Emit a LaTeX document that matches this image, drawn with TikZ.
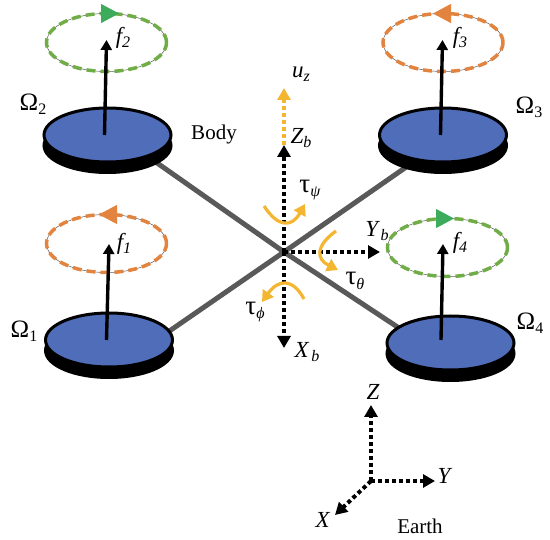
\documentclass[tikz,border=0pt]{standalone}
\usepackage{fontspec}
\setmainfont{Liberation Serif}
\usetikzlibrary{arrows.meta,shapes.geometric}
\definecolor{diskblue}{HTML}{4F6DB8}
\definecolor{armgray}{HTML}{595959}
\definecolor{spingreen}{HTML}{70AD47}
\definecolor{tipgreen}{HTML}{3CAB5B}
\definecolor{spinorange}{HTML}{E2843F}
\definecolor{torqueyellow}{HTML}{F4B631}
\tikzset{
  lbl/.style={font=\fontsize{21}{23}\selectfont,inner sep=0pt},
  axlbl/.style={font=\fontsize{23}{25}\selectfont,inner sep=0pt},
  taulbl/.style={font=\fontsize{27}{29}\selectfont,inner sep=0pt},
  omega/.style={font=\fontsize{25}{27}\selectfont,inner sep=0pt},
  arm/.style={armgray,line width=5pt},
  diskbase/.style={ellipse,fill=black,draw=black,line width=3pt,minimum width=127pt,minimum height=54pt,inner sep=0pt},
  disktop/.style={ellipse,fill=diskblue,draw=black,line width=3pt,minimum width=127pt,minimum height=54pt,inner sep=0pt},
  thrust/.style={line width=3.4pt,-{Triangle[length=10pt,width=11pt]}},
  axisline/.style={line width=4pt,dash pattern=on 4pt off 3pt,-{Triangle[length=12pt,width=13pt]}},
  torque/.style={torqueyellow,line width=3.2pt,-{Triangle[length=11pt,width=13pt]}},
  spinguide/.style={ellipse,draw=armgray,line width=.5pt,minimum width=120pt,minimum height=58pt,inner sep=0pt},
  spindash/.style={ellipse,line width=3.5pt,dash pattern=on 9pt off 5pt,minimum width=120pt,minimum height=58pt,inner sep=0pt},
  spintip/.style={-{Triangle[length=18pt,width=19pt]},line width=1pt}
}
\newcommand{\subbig}[1]{\raisebox{-.35ex}{\fontsize{16}{16}\selectfont #1}}
\begin{document}
\begin{tikzpicture}[x=1pt,y=-1pt]
\useasboundingbox (0,0) rectangle (550,540);

\coordinate (cen) at (284,252);

% arms
\draw[arm] (cen) -- (150,158);
\draw[arm] (cen) -- (168,332);
\draw[arm] (cen) -- (412,163);
\draw[arm] (cen) -- (405,332);

% rotor discs
\node[diskbase] at (107.5,145.5) {};
\fill[black] (44,135) rectangle (171,145.5);
\node[disktop] (disk2) at (107.5,135) {};

\node[diskbase] at (443,145.5) {};
\fill[black] (379.5,135) rectangle (506.5,145.5);
\node[disktop] (disk3) at (443,135) {};

\node[diskbase] at (109,350.5) {};
\fill[black] (45.5,340) rectangle (172.5,350.5);
\node[disktop] (disk1) at (109,340) {};

\node[diskbase] at (450.5,353.5) {};
\fill[black] (387,343) rectangle (514,353.5);
\node[disktop] (disk4) at (450.5,343) {};

% rotation rings
\node[spinguide] (ring2) at (106.5,42.5) {};
\node[spindash,draw=spingreen] at (106.5,42.5) {};
\node[spinguide] (ring1) at (106.5,243.5) {};
\node[spindash,draw=spinorange] at (106.5,243.5) {};
\node[spinguide] (ring3) at (443,42.5) {};
\node[spindash,draw=spinorange] at (443,42.5) {};
\node[spinguide] (ring4) at (447.5,247.5) {};
\node[spindash,draw=spingreen] at (447.5,247.5) {};

\coordinate (tail2) at (104.5,135);
\coordinate (tail1) at (106.5,340);
\coordinate (tail3) at (440.5,135);
\coordinate (tail4) at (441,340);
\coordinate (head2) at (106.5,40);
\coordinate (head1) at (109,244);
\coordinate (head3) at (442.5,40);
\coordinate (head4) at (443,244);
\draw[thrust] (tail2) -- (head2);
\draw[thrust] (tail1) -- (head1);
\draw[thrust] (tail3) -- (head3);
\draw[thrust] (tail4) -- (head4);

\coordinate (sa2) at (99,13.5);
\coordinate (sb2) at (119,13.5);
\coordinate (sa1) at (119,214.5);
\coordinate (sb1) at (99,214.5);
\coordinate (sa3) at (454,13.5);
\coordinate (sb3) at (433,13.5);
\coordinate (sa4) at (435,218.5);
\coordinate (sb4) at (454,218.5);
\draw[spintip,tipgreen] (sa2) -- (sb2);
\draw[spintip,spinorange] (sa1) -- (sb1);
\draw[spintip,spinorange] (sa3) -- (sb3);
\draw[spintip,tipgreen] (sa4) -- (sb4);

% body frame
\coordinate (zb) at (284,145);
\coordinate (uz) at (284,88);
\coordinate (xb) at (284,348);
\coordinate (yb) at (380,252);
\draw[axisline,torqueyellow] (zb) -- (uz);
\draw[axisline] (cen) -- (zb);
\draw[axisline] (cen) -- (xb);
\draw[axisline] (cen) -- (yb);

% torques
\coordinate (psia) at (264,206);
\coordinate (psib) at (305,204);
\coordinate (thta) at (336,231);
\coordinate (thtb) at (338,270);
\coordinate (phia) at (304,299);
\coordinate (phib) at (262,302);
\draw[torque] (psia) .. controls (278.3,228) and (292,227.3) .. (psib);
\draw[torque] (thta) .. controls (315.3,246) and (316,259) .. (thtb);
\draw[torque] (phia) .. controls (292.7,278) and (278.3,279) .. (phib);

% earth frame
\coordinate (org) at (371,481);
\coordinate (ez) at (371,405);
\coordinate (ey) at (435,481);
\coordinate (ex) at (335,515);
\draw[axisline] (org) -- (ez);
\draw[axisline] (org) -- (ey);
\draw[axisline] (org) -- (ex);

% labels
\node[lbl] (body) at (214,134) {Body};
\node[lbl] (earth) at (420,526) {Earth};
\node[omega] (om2) at (33,104) {Ω\subbig{2}};
\node[omega] (om3) at (529,107) {Ω\subbig{3}};
\node[omega] (om1) at (24,331) {Ω\subbig{1}};
\node[omega] (om4) at (530,323) {Ω\subbig{4}};
\node[axlbl] (f2) at (123,38) {\textit{f\subbig{2}}};
\node[axlbl] (f1) at (124,244) {\textit{f\subbig{1}}};
\node[axlbl] (f3) at (460,38) {\textit{f\subbig{3}}};
\node[axlbl] (f4) at (460,243) {\textit{f\subbig{4}}};
\node[axlbl] (uzl) at (301,74) {\textit{u\subbig{z}}};
\node[axlbl] (zbl) at (301,138) {\textit{Z\subbig{b}}};
\node[axlbl] (ybl) at (377,231) {\textit{Y\subbig{\,b}}};
\node[axlbl] (xbl) at (307,352) {\textit{X\subbig{\,b}}};
\node[taulbl] (psil) at (310,190) {τ\subbig{\textit{ψ}}};
\node[taulbl] (thtl) at (355,281) {τ\subbig{\textit{θ}}};
\node[taulbl] (phil) at (255,312) {τ\subbig{\textit{ϕ}}};
\node[axlbl] (zl) at (373,392) {\textit{Z}};
\node[axlbl] (yl) at (445,476) {\textit{Y}};
\node[axlbl] (xl) at (323,520) {\textit{X}};
\end{tikzpicture}
\end{document}
